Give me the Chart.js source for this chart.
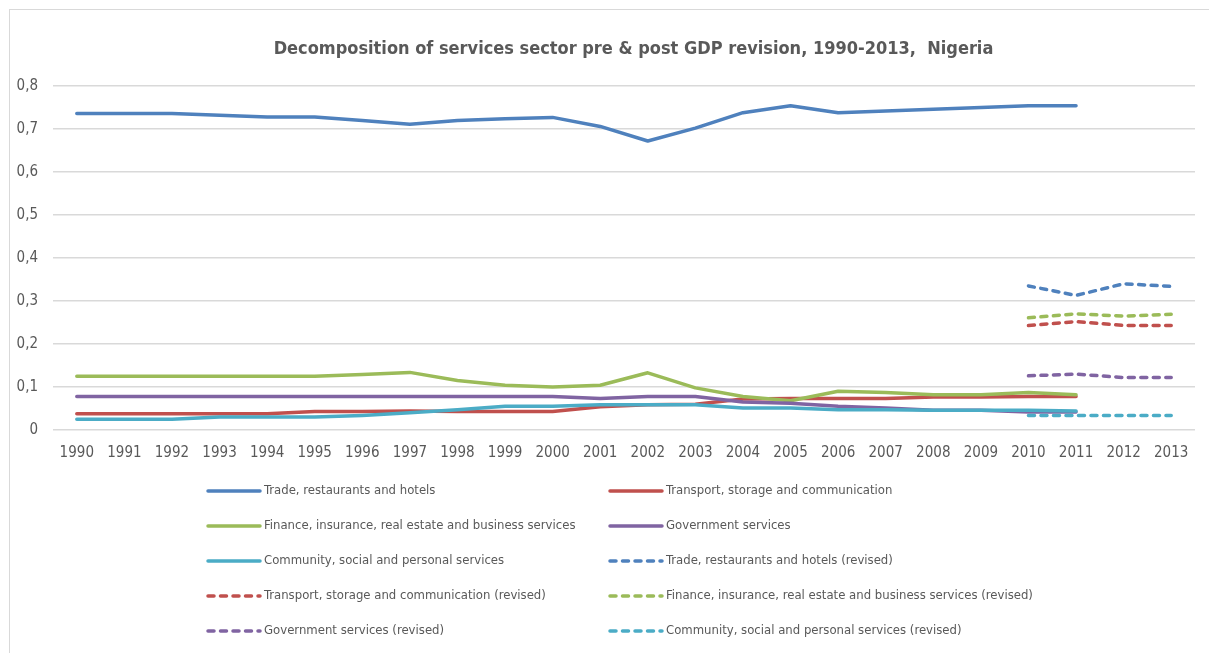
<!DOCTYPE html>
<html>
<head>
<meta charset="utf-8">
<script src="https://cdn.jsdelivr.net/npm/chart.js@4/dist/chart.umd.min.js"></script>
<style>
  html, body { margin: 0; padding: 0; background: #fff; overflow: hidden; }
  #wrap { position: relative; width: 1209px; height: 653px; overflow: hidden; }
  #chart { display: block; }
  #frame {
    position: absolute; left: 9px; top: 9px; width: 1300px; height: 700px;
    border-left: 1.5px solid #d9d9d9; border-top: 1.5px solid #d9d9d9;
    pointer-events: none;
  }
</style>
</head>
<body>
<div id="wrap">
  <canvas id="chart" width="1209" height="653"></canvas>
  <div id="frame"></div>
</div>
<script>
const years = ['1990', '1991', '1992', '1993', '1994', '1995', '1996', '1997', '1998', '1999', '2000', '2001',
  '2002', '2003', '2004', '2005', '2006', '2007', '2008', '2009', '2010', '2011', '2012', '2013'];

// shares of services output, old series (ends 2011)
const trade = [0.736, 0.736, 0.736, 0.732, 0.728, 0.728, 0.720, 0.711, 0.720, 0.724, 0.727, 0.706,
  0.672, 0.702, 0.738, 0.754, 0.738, 0.742, 0.746, 0.750, 0.754, 0.754, null, null];
const transport = [0.038, 0.038, 0.038, 0.038, 0.038, 0.043, 0.043, 0.044, 0.043, 0.043, 0.043, 0.054,
  0.059, 0.060, 0.072, 0.073, 0.073, 0.073, 0.077, 0.077, 0.078, 0.078, null, null];
const finance = [0.125, 0.125, 0.125, 0.125, 0.125, 0.125, 0.129, 0.134, 0.115, 0.104, 0.100, 0.104,
  0.133, 0.098, 0.078, 0.068, 0.090, 0.087, 0.082, 0.082, 0.087, 0.082, null, null];
const government = [0.078, 0.078, 0.078, 0.078, 0.078, 0.078, 0.078, 0.078, 0.078, 0.078, 0.078, 0.073,
  0.078, 0.078, 0.065, 0.062, 0.055, 0.051, 0.046, 0.046, 0.042, 0.042, null, null];
const community = [0.025, 0.025, 0.025, 0.030, 0.030, 0.030, 0.034, 0.040, 0.047, 0.055, 0.055, 0.059,
  0.059, 0.059, 0.051, 0.051, 0.047, 0.047, 0.046, 0.046, 0.046, 0.044, null, null];

// rebased series, 2010-2013 only
const noRevision = Array(20).fill(null);
const tradeRev = noRevision.concat([0.335, 0.313, 0.340, 0.334]);
const transportRev = noRevision.concat([0.243, 0.252, 0.243, 0.243]);
const financeRev = noRevision.concat([0.261, 0.270, 0.265, 0.269]);
const governmentRev = noRevision.concat([0.126, 0.130, 0.122, 0.122]);
const communityRev = noRevision.concat([0.034, 0.034, 0.034, 0.034]);

const yTicks = [0, 0.1, 0.2, 0.3, 0.4, 0.5, 0.6, 0.7, 0.8];

const TITLE = 'Decomposition of services sector pre & post GDP revision, 1990-2013,  Nigeria';
const BLUE = '#4F81BD', RED = '#C0504D', GREEN = '#9BBB59', PURPLE = '#8064A2', AQUA = '#4BACC6';
const DASH = [6, 6.5];
const TEXT = '#595959';
const FONT = "'Liberation Sans Narrow', 'DejaVu Sans Condensed', sans-serif";

function series(label, data, color, dashed) {
  return {
    label: label,
    data: data,
    borderColor: color,
    backgroundColor: color,
    borderWidth: 3.5,
    borderDash: dashed ? DASH : [],
    borderCapStyle: 'round',
    borderJoinStyle: 'round',
    pointRadius: 0,
    pointHoverRadius: 0,
    tension: 0,
    spanGaps: false
  };
}

const datasets = [
  series('Trade, restaurants and hotels', trade, BLUE, false),
  series('Transport, storage and communication', transport, RED, false),
  series('Finance, insurance, real estate and business services', finance, GREEN, false),
  series('Government services', government, PURPLE, false),
  series('Community, social and personal services', community, AQUA, false),
  series('Trade, restaurants and hotels (revised)', tradeRev, BLUE, true),
  series('Transport, storage and communication (revised)', transportRev, RED, true),
  series('Finance, insurance, real estate and business services (revised)', financeRev, GREEN, true),
  series('Government services (revised)', governmentRev, PURPLE, true),
  series('Community, social and personal services (revised)', communityRev, AQUA, true)
];
// later series are painted over earlier ones
datasets.forEach((d, i) => { d.order = datasets.length - i; });

// title (centred a little right of the canvas middle) and a two-column legend
const decorations = {
  id: 'decorations',
  afterDraw(chart) {
    const ctx = chart.ctx;
    ctx.save();
    ctx.fillStyle = TEXT;
    ctx.font = 'bold 18px ' + FONT;
    ctx.textAlign = 'center';
    ctx.textBaseline = 'middle';
    ctx.fillText(TITLE, chart.width / 2 + 29, 49);

    const cols = [208, 610];
    const top = 491, rowGap = 35, sample = 52;
    ctx.font = '13px ' + FONT;
    ctx.textAlign = 'left';
    chart.data.datasets.forEach((ds, i) => {
      const x = cols[i % 2];
      const y = top + Math.floor(i / 2) * rowGap;
      ctx.beginPath();
      ctx.strokeStyle = ds.borderColor;
      ctx.lineWidth = 3.5;
      ctx.lineCap = 'round';
      ctx.setLineDash(ds.borderDash);
      ctx.moveTo(x, y);
      ctx.lineTo(x + sample, y);
      ctx.stroke();
      ctx.setLineDash([]);
      ctx.fillStyle = TEXT;
      ctx.fillText(ds.label, x + sample + 4, y);
    });
    ctx.restore();
  }
};

new Chart(document.getElementById('chart'), {
  type: 'line',
  data: { labels: years, datasets: datasets },
  options: {
    responsive: false,
    animation: false,
    layout: { padding: { top: 86, left: 12, right: 14, bottom: 185 } },
    plugins: {
      legend: { display: false },
      tooltip: { enabled: false },
      title: { display: false }
    },
    scales: {
      x: {
        offset: true,
        grid: { display: false },
        border: { display: false },
        ticks: {
          color: TEXT,
          font: { family: FONT, size: 15 },
          maxRotation: 0,
          autoSkip: false,
          padding: 6
        }
      },
      y: {
        min: 0,
        max: 0.8,
        afterBuildTicks(scale) { scale.ticks = yTicks.map(v => ({ value: v })); },
        afterFit(scale) { scale.width = 41; },
        grid: { color: '#d9d9d9', lineWidth: 1.5, drawTicks: false },
        border: { display: false },
        ticks: {
          color: TEXT,
          font: { family: FONT, size: 15 },
          padding: 15,
          callback: v => v === 0 ? '0' : v.toFixed(1).replace('.', ',')
        }
      }
    }
  },
  plugins: [decorations]
});
</script>
</body>
</html>
